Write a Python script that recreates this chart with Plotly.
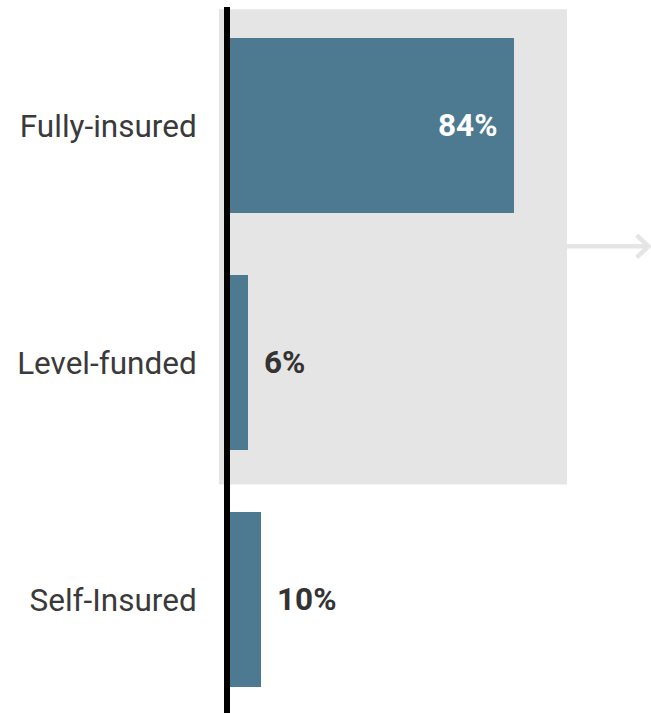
import plotly.graph_objects as go

# Funding arrangement shares (percent of respondents)
categories = ["Fully-insured", "Level-funded", "Self-Insured"]
shares = [84, 6, 10]

BAR_COLOR = "#4d7a91"
PANEL_GREY = "#e5e5e5"
TEXT_DARK = "#333333"
FONT = "Roboto"

positions = list(range(len(categories)))

fig = go.Figure(
    go.Bar(
        x=shares,
        y=positions,
        orientation="h",
        width=0.74,
        marker=dict(color=BAR_COLOR, line=dict(width=0)),
        hoverinfo="skip",
    )
)

# Value labels: large bars carry the label inside, small bars just past the end
for pos, val in zip(positions, shares):
    inside = val > 50
    fig.add_annotation(
        x=val,
        y=pos,
        xref="x",
        yref="y",
        text=f"<b>{val}%</b>",
        showarrow=False,
        xanchor="right" if inside else "left",
        yanchor="middle",
        xshift=-15 if inside else 14,
        font=dict(family=FONT, size=31.5, color="white" if inside else TEXT_DARK),
    )

# Grey panel grouping the first two arrangements
fig.add_shape(
    type="rect",
    xref="x", yref="y",
    x0=-2.35, x1=99.5, y0=-0.49, y1=1.515,
    fillcolor=PANEL_GREY, line=dict(width=0),
    layer="below",
)

# Arrow leading out of the panel
fig.add_shape(
    type="line",
    xref="x", yref="y",
    x0=99.5, x1=123.3, y0=0.51, y1=0.51,
    line=dict(color=PANEL_GREY, width=4.5),
    layer="below",
)
fig.add_shape(
    type="path",
    xref="x", yref="y",
    path="M 119.9,0.463 L 123.3,0.51 L 119.9,0.557",
    line=dict(color=PANEL_GREY, width=4.5),
    layer="below",
)

# Baseline at zero
fig.add_shape(
    type="line",
    xref="x", yref="paper",
    x0=0, x1=0, y0=0, y1=1,
    line=dict(color="black", width=6),
    layer="above",
)

fig.update_layout(
    width=651,
    height=713,
    margin=dict(l=210, r=0, t=7, b=0),
    paper_bgcolor="white",
    plot_bgcolor="white",
    showlegend=False,
    bargap=0,
    font=dict(family=FONT, color=TEXT_DARK),
)
fig.update_xaxes(
    range=[-4.975, 124.09],
    visible=False,
    showgrid=False,
    zeroline=False,
    fixedrange=True,
)
fig.update_yaxes(
    range=[2.479, -0.5],
    tickmode="array",
    tickvals=positions,
    ticktext=categories,
    tickfont=dict(family=FONT, size=31.5, color="#3a3a3a"),
    ticks="outside",
    ticklen=6,
    tickcolor="rgba(0,0,0,0)",
    showgrid=False,
    zeroline=False,
    showline=False,
    fixedrange=True,
)

fig.write_html("out.html")
